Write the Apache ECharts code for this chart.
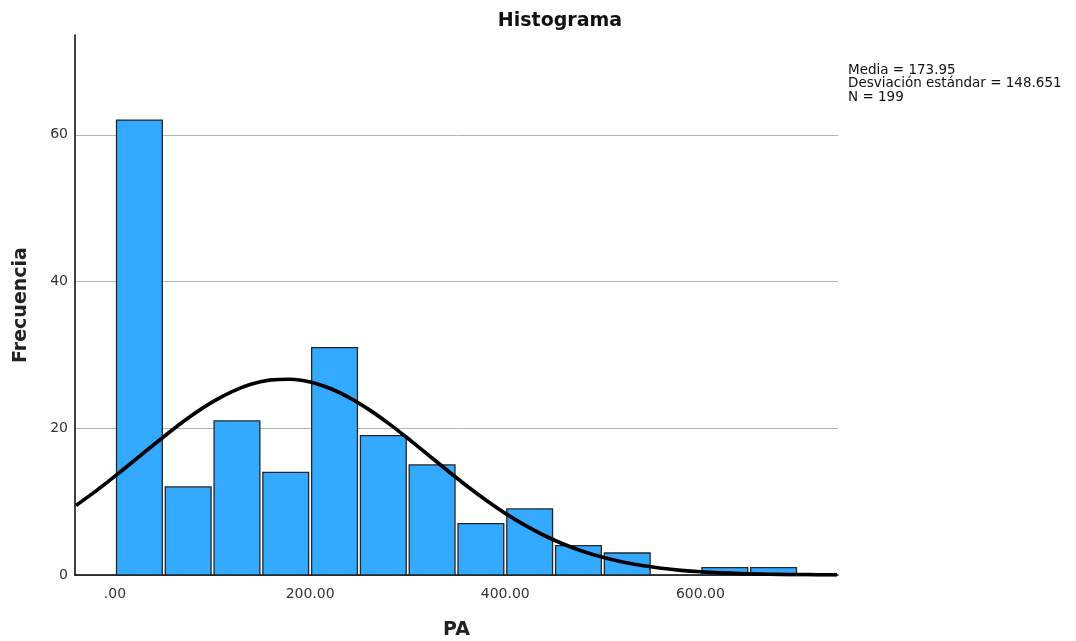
<!DOCTYPE html>
<html>
<head>
<meta charset="utf-8">
<script src="https://cdn.jsdelivr.net/npm/echarts@6/dist/echarts.min.js"></script>
<style>html,body{margin:0;padding:0;background:#fff}#c{width:1076px;height:641px}</style>
</head>
<body>
<div id="c"></div>
<script>
// Histogram bins (PA), bin width 50
const binStart = [0, 50, 100, 150, 200, 250, 300, 350, 400, 450, 500, 550, 600, 650];
const binEnd   = [50, 100, 150, 200, 250, 300, 350, 400, 450, 500, 550, 600, 650, 700];
const counts   = [62, 12, 21, 14, 31, 19, 15, 7, 9, 4, 3, 0, 1, 1];
// Normal curve points
const curveX = [-40,-20,0,20,40,60,80,100,120,140,160,180,200,220,240,260,280,300,320,340,360,380,400,420,440,460,480,500,520,540,560,580,600,620,640,660,680,700,720,740];
const curveY = [9.48,11.40,13.47,15.62,17.79,19.91,21.87,23.60,25.00,26.02,26.59,26.68,26.30,25.45,24.19,22.58,20.70,18.64,16.48,14.31,12.20,10.22,8.40,6.79,5.38,4.19,3.21,2.41,1.78,1.29,0.92,0.64,0.44,0.30,0.20,0.13,0.08,0.05,0.03,0.02];
const xTicks = [0, 200, 400, 600];
const yTicks = [0, 20, 40, 60];
const statLines = ['Media = 173.95', 'Desviación estándar = 148.651', 'N = 199'];

const chart = echarts.init(document.getElementById('c'));
const font = 'DejaVu Sans';
chart.setOption({
  animation: false,
  title: {
    text: 'Histograma', left: 555, top: 7, textAlign: 'center',
    textStyle: {fontFamily: font, fontWeight: 'bold', fontSize: 19, color: '#111'}
  },
  graphic: [{
    type: 'text', left: 848, top: 63,
    style: {text: statLines.join('\n'), font: '13.5px "DejaVu Sans"', fill: '#111', lineHeight: 13.5}
  }],
  grid: {left: 75, right: 238, top: 35, bottom: 66, containLabel: false, outerBoundsMode: 'none'},
  xAxis: {
    type: 'value', min: -41, max: 741,
    name: 'PA', nameLocation: 'middle', nameGap: 46,
    nameTextStyle: {fontFamily: font, fontWeight: 'bold', fontSize: 19, color: '#222'},
    axisLine: {show: true, onZero: false, lineStyle: {color: '#000', width: 1.5}},
    axisTick: {show: false},
    splitLine: {show: false},
    axisLabel: {
      customValues: xTicks, margin: 12,
      fontFamily: font, fontSize: 14, color: '#333',
      formatter: v => v === 0 ? '.00' : v.toFixed(2)
    }
  },
  yAxis: {
    type: 'value', min: 0, max: 73.6, interval: 20,
    name: 'Frecuencia', nameLocation: 'middle', nameGap: 44, nameRotate: 90,
    nameTextStyle: {fontFamily: font, fontWeight: 'bold', fontSize: 19, color: '#222'},
    axisLine: {show: true, onZero: false, lineStyle: {color: '#000', width: 1.5}},
    axisTick: {show: false},
    splitLine: {show: true, showMaxLine: false, lineStyle: {color: '#b4b4b4', width: 1}},
    axisLabel: {customValues: yTicks, margin: 7, fontFamily: font, fontSize: 14, color: '#333'}
  },
  series: [{
    type: 'custom',
    data: counts.map((c, i) => [binStart[i], binEnd[i], c]),
    renderItem: function (params, api) {
      const c = api.value(2);
      if (!c) return null;
      const p0 = api.coord([api.value(0), c]);
      const p1 = api.coord([api.value(1), 0]);
      const inset = 1.5;
      return {
        type: 'rect',
        shape: {x: p0[0] + inset, y: p0[1], width: p1[0] - p0[0] - 2 * inset, height: p1[1] - p0[1]},
        style: {fill: '#33aaff', stroke: '#262626', lineWidth: 1.3}
      };
    },
    z: 2
  }, {
    type: 'line',
    data: curveX.map((x, i) => [x, curveY[i]]),
    smooth: 0.2, symbol: 'none',
    lineStyle: {color: '#000', width: 3.7, join: 'round'},
    z: 3
  }]
});
</script>
</body>
</html>
